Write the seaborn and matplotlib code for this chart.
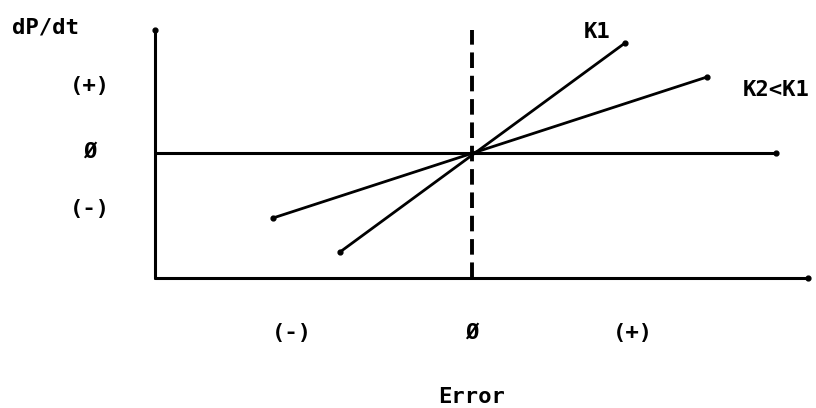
import matplotlib
matplotlib.use("Agg")
import matplotlib.pyplot as plt
import seaborn as sns
import pandas as pd

sns.set_style("white")
plt.rcParams['font.family'] = ['DejaVu Sans Mono', 'DejaVu Sans']
plt.rcParams['text.color'] = 'black'

# Data (arbitrary units; origin at the crossing of the dashed line and zero line)
k1_x = [-1.32, 1.53]
k1_y = [-0.99, 1.10]
k2_x = [-1.99, 2.35]
k2_y = [-0.65, 0.76]

y_axis_x = -3.17
y_axis_range = [-1.25, 1.23]
zero_line_x = [-3.17, 3.04]
bottom_axis_x = [-3.17, 3.36]
bottom_axis_y = -1.25

y_tick_labels = ["(+)", "Ø", "(-)"]
y_tick_pos = [0.67, 0.01, -0.56]
x_tick_labels = ["(-)", "Ø", "(+)"]
x_tick_pos = [-1.80, 0.0, 1.61]

fig = plt.figure(figsize=(8.16, 4.08), dpi=100)
ax = fig.add_axes([0, 0, 1, 1])
ax.set_xlim(-4.72, 3.44)
ax.set_ylim(-2.55, 1.53)
ax.set_axis_off()

lw = 2.2
kw = dict(color="black", linewidth=lw, solid_capstyle="round", legend=False,
          estimator=None, sort=False, ax=ax)

# Axes frame lines
sns.lineplot(x=[y_axis_x, y_axis_x], y=y_axis_range, **kw)
sns.lineplot(x=bottom_axis_x, y=[bottom_axis_y, bottom_axis_y], **kw)
sns.lineplot(x=zero_line_x, y=[0, 0], **kw)

# Dashed vertical line at zero error
ax.plot([0, 0], y_axis_range, color="black", linewidth=2.8, linestyle=(0, (4, 2)))

# Gain lines
df = pd.DataFrame({"x": k1_x + k2_x, "y": k1_y + k2_y,
                   "g": ["K1"] * 2 + ["K2"] * 2})
sns.lineplot(data=df, x="x", y="y", units="g", estimator=None, sort=False,
             color="black", linewidth=2.0, legend=False, ax=ax)
ax.scatter(k1_x + k2_x + [zero_line_x[1], bottom_axis_x[1], y_axis_x],
           k1_y + k2_y + [0, bottom_axis_y, y_axis_range[1]],
           s=12, color="black", zorder=3)

fs = 16
tk = dict(fontsize=fs, ha="center", va="center", fontweight="semibold", color="black")
ax.text(-4.27, 1.26, "dP/dt", **tk)
for lab, yp in zip(y_tick_labels, y_tick_pos):
    ax.text(-3.82, yp, lab, **tk)
for lab, xp in zip(x_tick_labels, x_tick_pos):
    ax.text(xp, -1.80, lab, **tk)
ax.text(0.0, -2.44, "Error", **tk)
ax.text(1.25, 1.21, "K1", **tk)
ax.text(3.04, 0.63, "K2<K1", **tk)

fig.savefig("out.png", dpi=100)
